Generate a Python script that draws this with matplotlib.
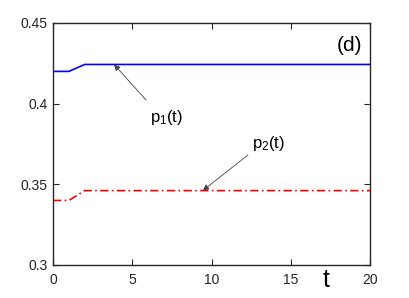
import matplotlib
matplotlib.use("Agg")
import matplotlib.pyplot as plt

plt.rcParams['font.family'] = ['Liberation Sans', 'DejaVu Sans']
plt.rcParams['mathtext.default'] = 'regular'

t = [0, 1, 2, 20]
p1 = [0.420, 0.420, 0.4243, 0.4243]
p2 = [0.340, 0.340, 0.3461, 0.3461]
xticks = [0, 5, 10, 15, 20]
yticks = [0.3, 0.35, 0.4, 0.45]
yticklabels = ["0.3", "0.35", "0.4", "0.45"]

fig = plt.figure(figsize=(4.09, 2.98), dpi=100)
ax = fig.add_axes([53/409, 1-265/298, (370-53)/409, (265-23)/298])
ax.plot(t, p1, color="#0000ff", lw=1.2)
ax.plot(t, p2, color="#ff0000", lw=1.2, ls=(0, (5, 2, 1, 2)))
ax.set_xlim(0, 20)
ax.set_ylim(0.3, 0.45)
ax.set_xticks(xticks)
ax.set_xticklabels([str(v) for v in xticks])
ax.set_yticks(yticks)
ax.set_yticklabels(yticklabels)
ax.tick_params(direction="in", top=True, right=True, labelsize=10, colors="#262626", length=4, width=0.8)
ax.tick_params(axis="x", pad=6)
ax.tick_params(axis="y", pad=4)
for s in ax.spines.values():
    s.set_color("#262626")
    s.set_linewidth(1.0)

arrow = dict(arrowstyle="-|>", color="#444444", lw=0.6, mutation_scale=9, shrinkA=0, shrinkB=0)
ax.annotate("", xy=(3.85, 0.4243), xytext=(5.87, 0.4023), arrowprops=arrow)
ax.text(6.1, 0.3915, "p$_1$(t)", fontsize=12, ha="left", va="center")
ax.annotate("", xy=(9.45, 0.3461), xytext=(12.3, 0.3682), arrowprops=arrow)
ax.text(12.55, 0.3755, "p$_2$(t)", fontsize=12, ha="left", va="center")
ax.text(0.975, 0.909, "(d)", transform=ax.transAxes, fontsize=15, ha="right", va="center")
ax.text(17.2, 0.2905, "t", fontsize=18, ha="center", va="center", clip_on=False)
fig.savefig("out.png", dpi=100)
